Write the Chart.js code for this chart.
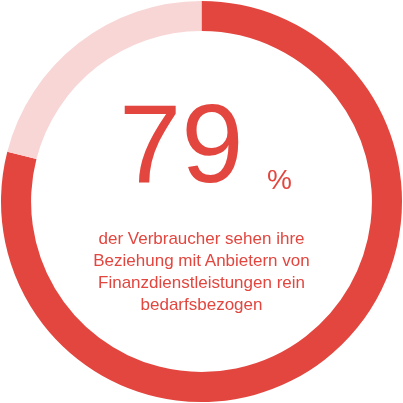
<!DOCTYPE html>
<html lang="de">
<head>
  <meta charset="UTF-8" />
  <title>Verbraucher</title>
  <script src="https://cdn.jsdelivr.net/npm/chart.js"></script>
  <style>
    html, body { margin: 0; padding: 0; background: #fff; }
    #wrap { position: relative; width: 403px; height: 403px; }
    .txt { position: absolute; color: #e2463f; font-family: "Liberation Sans", Arial, sans-serif; }
  </style>
</head>
<body>
  <div id="wrap">
    <canvas id="ring" width="403" height="403"></canvas>
    <div class="txt" style="left:119px; top:88px; font-size:112px; line-height:112px;">79</div>
    <div class="txt" style="left:267px; top:164px; font-size:28px;">%</div>
    <div class="txt" style="left:0; width:403px; top:228px; font-size:17px; line-height:22px; text-align:center;">
      der Verbraucher sehen ihre<br>Beziehung mit Anbietern von<br>Finanzdienstleistungen rein<br>bedarfsbezogen
    </div>
  </div>

  <script>
    const labels = ["bedarfsbezogen", "andere"];
    const values = [79, 21];
    const colors = ["#e2463f", "#f8d6d6"];

    new Chart(document.getElementById("ring"), {
      type: "doughnut",
      data: {
        labels: labels,
        datasets: [{ data: values, backgroundColor: colors, borderWidth: 0 }]
      },
      options: {
        responsive: false,
        animation: false,
        cutout: "85%",
        layout: { padding: 1 },
        plugins: { legend: { display: false }, tooltip: { enabled: false } }
      }
    });
  </script>
</body>
</html>
